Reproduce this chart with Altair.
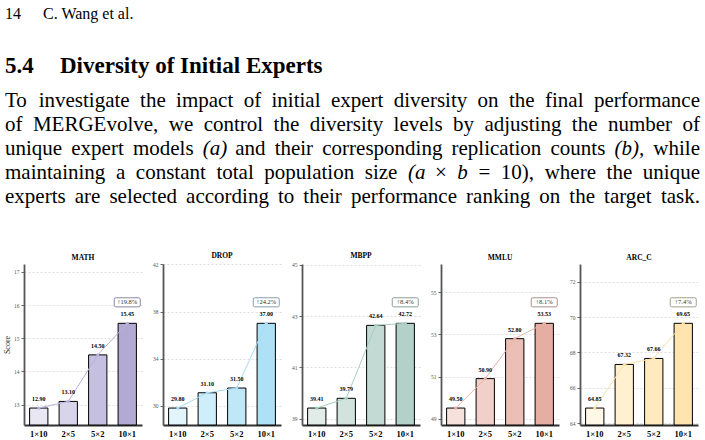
import altair as alt
import pandas as pd

# ---------------- data ----------------
configs = ["1×10", "2×5", "5×2", "10×1"]
tasks = ["MATH", "DROP", "MBPP", "MMLU", "ARC_C"]
math_scores = [12.90, 13.10, 14.50, 15.45]
drop_scores = [29.80, 31.10, 31.50, 37.00]
mbpp_scores = [39.41, 39.79, 42.64, 42.72]
mmlu_scores = [49.50, 50.90, 52.80, 53.53]
arc_scores = [64.85, 67.32, 67.66, 69.65]
math_ticks = [13, 14, 15, 16, 17]
drop_ticks = [30, 32, 34, 36, 38, 40, 42]
mbpp_ticks = [39, 40, 41, 42, 43, 44, 45]
mmlu_ticks = [49, 50, 51, 52, 53, 54, 55, 56]
arc_ticks = [64, 66, 68, 70, 72]

header_number = "14"
header_author = "C. Wang et al."
section_number = "5.4"
section_title = "Diversity of Initial Experts"
paragraph_lines = [
    "To investigate the impact of initial expert diversity on the final performance",
    "of MERGEvolve, we control the diversity levels by adjusting the number of",
    "unique expert models (a) and their corresponding replication counts (b), while",
    "maintaining a constant total population size (a × b = 10), where the unique",
    "experts are selected according to their performance ranking on the target task.",
]
math_words = ["(a)", "(b),", "(a", "b"]

# ---------------- styles ----------------
SERIF = "Liberation Serif"
palettes = {
    "MATH": ["#e9e7f3", "#d8d5ea", "#c5c0df", "#b2aad3"],
    "DROP": ["#e2f4fc", "#cfeefb", "#bfe7f8", "#afe1f6"],
    "MBPP": ["#e1ece9", "#d2e3de", "#c2dad3", "#b3d1c8"],
    "MMLU": ["#f7e1dd", "#f1d0c9", "#ebbfb5", "#e5aea2"],
    "ARC_C": ["#fff8e6", "#fff1d0", "#ffeac0", "#ffe4ad"],
}
line_colors = {"MATH": "#b9b1dd", "DROP": "#a9dcf5", "MBPP": "#a9cfc3", "MMLU": "#ebb1a6", "ARC_C": "#fbe0a8"}
box_colors = {"MATH": "#7e7a9a", "DROP": "#7a94a0", "MBPP": "#7f948e", "MMLU": "#a08580", "ARC_C": "#9a9480"}
BOX_PATH = ("M -0.88 -0.35 L 0.88 -0.35 Q 1 -0.35 1 -0.23 L 1 0.23 Q 1 0.35 0.88 0.35 "
            "L -0.88 0.35 Q -1 0.35 -1 0.23 L -1 -0.23 Q -1 -0.35 -0.88 -0.35 Z")

PW, PH = 118, 161
LEFT_PAD = 3
ORIGIN_X = LEFT_PAD + 21  # page x of the plot origin (text block shares it)


def panel(task, scores, ticks, first):
    lo_v, hi_v = min(scores), max(scores)
    r = hi_v - lo_v
    lo, hi = lo_v - 0.2 * r, hi_v + 0.7 * r
    df = pd.DataFrame({
        "config": configs,
        "score": scores,
        "base": [lo] * len(scores),
        "label": [f"{s:.2f}" for s in scores],
    })
    gain = (scores[-1] - scores[0]) / scores[0] * 100
    df_box = pd.DataFrame({"config": [configs[-1]], "score": [scores[-1]], "text": [f"↑{gain:.1f}%"]})

    x = alt.X("config:N", sort=configs, title=None,
              scale=alt.Scale(paddingInner=0.38, paddingOuter=0.19),
              axis=alt.Axis(labelAngle=0, ticks=False, labelFont=SERIF, labelFontWeight="bold",
                            labelFontSize=8.5, labelColor="black", domainColor="#333",
                            domainWidth=1.8, labelPadding=4))
    y = alt.Y("score:Q", scale=alt.Scale(domain=[lo, hi], nice=False, zero=False),
              title="Score" if first else None,
              axis=alt.Axis(values=ticks, format="d", grid=True, gridDash=[2, 2],
                            gridColor="#d0d0d0", gridWidth=0.7, labelFont=SERIF,
                            labelFontSize=5.5, labelColor="#555", tickSize=3, tickColor="#444",
                            tickWidth=0.8, domainColor="#555", domainWidth=1.8, labelPadding=2,
                            minExtent=12, maxExtent=12,
                            titleFont=SERIF, titleFontSize=8, titleFontWeight="normal",
                            titleColor="#222", titlePadding=1))
    base = alt.Chart(df).encode(x=x)
    bars = base.mark_bar(stroke="black", strokeWidth=1).encode(
        y=y, y2="base:Q",
        color=alt.Color("config:N", sort=configs,
                        scale=alt.Scale(domain=configs, range=palettes[task]), legend=None))
    line = base.mark_line(color=line_colors[task], strokeWidth=1).encode(y="score:Q")
    pts = base.mark_circle(color=line_colors[task], size=10, opacity=1).encode(y="score:Q")
    labels = base.mark_text(dy=-9, font=SERIF, fontSize=6, fontWeight="bold", color="black").encode(
        y="score:Q", text="label:N")
    bbase = alt.Chart(df_box).encode(x=alt.X("config:N", sort=configs), y="score:Q")
    box = bbase.mark_point(shape=BOX_PATH, size=676, filled=True, fill="white", fillOpacity=1,
                           opacity=1, stroke=box_colors[task], strokeWidth=0.9, yOffset=-21)
    box_text = bbase.mark_text(font=SERIF, fontSize=6.5, color="#333", yOffset=-21).encode(text="text:N")
    return alt.layer(bars, line, pts, labels, box, box_text).properties(
        width=PW, height=PH,
        title=alt.TitleParams(task, font=SERIF, fontSize=7.5, fontWeight="bold", color="black",
                              offset=3, anchor="middle"))


panels = [
    panel("MATH", math_scores, math_ticks, True),
    panel("DROP", drop_scores, drop_ticks, False),
    panel("MBPP", mbpp_scores, mbpp_ticks, False),
    panel("MMLU", mmlu_scores, mmlu_ticks, False),
    panel("ARC_C", arc_scores, arc_ticks, False),
]
row = alt.hconcat(*panels, spacing=8).resolve_scale(color="independent", y="independent")

# ---------------- page text (justified word layout, Times metrics) ----------------
TIMES = {" ": 250, "(": 333, ")": 333, ",": 250, ".": 250, "=": 564, "×": 564,
         "A": 722, "B": 667, "C": 667, "D": 722, "E": 611, "F": 556, "G": 722, "H": 722,
         "I": 333, "J": 389, "K": 722, "L": 611, "M": 889, "N": 722, "O": 722, "P": 556,
         "Q": 722, "R": 667, "S": 556, "T": 611, "U": 722, "V": 722, "W": 944, "X": 722,
         "Y": 722, "Z": 611, "a": 444, "b": 500, "c": 444, "d": 500, "e": 444, "f": 333,
         "g": 500, "h": 500, "i": 278, "j": 278, "k": 500, "l": 278, "m": 778, "n": 500,
         "o": 500, "p": 500, "q": 500, "r": 333, "s": 389, "t": 278, "u": 500, "v": 500,
         "w": 722, "x": 500, "y": 500, "z": 444}
PARA_SIZE = 21
TEXT_LEFT, TEXT_RIGHT = 5, 700


def word_w(w, size):
    return sum(TIMES.get(c, 500) for c in w) / 1000 * size


rows = []
for li, line in enumerate(paragraph_lines):
    words = line.split(" ")
    widths = [word_w(w, PARA_SIZE) for w in words]
    gap = (TEXT_RIGHT - TEXT_LEFT - sum(widths)) / (len(words) - 1)
    xpos = TEXT_LEFT
    for w, wd in zip(words, widths):
        rows.append({"word": w, "line": li, "px": xpos - ORIGIN_X, "math": w in math_words})
        xpos += wd + gap
words_df = pd.DataFrame(rows)

one = pd.DataFrame({"t": [0]})


def label(txt, px, py, size, weight="normal"):
    return alt.Chart(one).mark_text(align="left", baseline="middle", font=SERIF, fontSize=size,
                                    fontWeight=weight, color="black").encode(
        x=alt.value(px - ORIGIN_X), y=alt.value(py), text=alt.value(txt))


hdr_num = label(header_number, 5, 14, 16)
hdr_auth = label(header_author, 43, 14, 16)
sec_num = label(section_number, 5, 66, 23, "bold")
sec_title = label(section_title, 60, 66, 23, "bold")

px_enc = alt.X("px:Q", axis=None, scale=alt.Scale(domain=[0, 705], range=[0, 705]))
line_enc = alt.Y("line:Q", axis=None, scale=alt.Scale(domain=[0, 4], range=[101, 197]))
para_upright = alt.Chart(words_df).transform_filter("!datum.math").mark_text(
    align="left", baseline="middle", font=SERIF, fontSize=PARA_SIZE, color="black").encode(
    x=px_enc, y=line_enc, text="word:N")
para_italic = alt.Chart(words_df).transform_filter("datum.math").mark_text(
    align="left", baseline="middle", font=SERIF, fontSize=PARA_SIZE, fontStyle="italic",
    color="black").encode(x=px_enc, y=line_enc, text="word:N")
text_block = alt.layer(hdr_num, hdr_auth, sec_num, sec_title, para_upright, para_italic).properties(
    width=705 - ORIGIN_X, height=251)

chart = alt.vconcat(text_block, row, spacing=0).properties(
    padding={"left": LEFT_PAD, "top": 0, "right": 0, "bottom": 0}).configure_view(stroke=None)
chart.save("out.html", embed_options={"renderer": "svg", "actions": False})
